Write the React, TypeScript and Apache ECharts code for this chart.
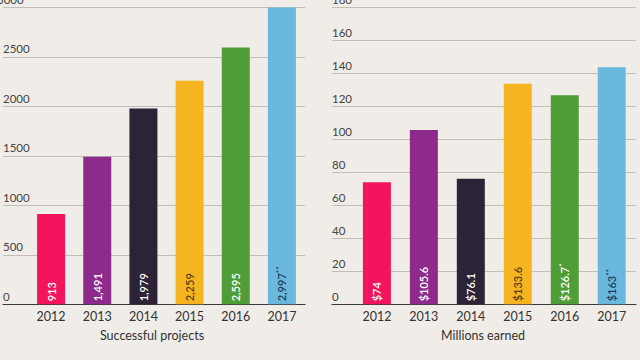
import React, { useEffect, useRef } from "react";
import * as echarts from "echarts";

const years = ["2012", "2013", "2014", "2015", "2016", "2017"];
const projects = [913, 1491, 1979, 2259, 2595, 2997];
const projectLabels = ["913", "1,491", "1,979", "2,259", "2,595", "2,997"];
const projectMarks = ["", "", "", "", "", "**"];
const earned = [74, 105.6, 76.1, 133.6, 126.7, 143.6];
const earnedLabels = ["$74", "$105.6", "$76.1", "$133.6", "$126.7", "$163"];
const earnedMarks = ["", "", "", "", "*", "**"];
const leftTitle = "Successful projects";
const rightTitle = "Millions earned";
const leftMax = 3000;
const leftStep = 500;
const rightMax = 180;
const rightStep = 20;

const barColors = ["#f2155d", "#8d2a8c", "#2c2436", "#f5b520", "#4f9d37", "#6bb8df"];
const labelColors = ["#ffffff", "#ffffff", "#ffffff", "#5a3d12", "#ffffff", "#1d3c5c"];

const FONT = "Lato, 'Open Sans', sans-serif";

export default function App() {
  const ref = useRef<HTMLDivElement>(null);
  useEffect(() => {
    document.body.style.margin = "0";
    const chart = echarts.init(ref.current!, null, { renderer: "svg" });
    const gridTop = 7.3;
    const gridH = 297;
    const yLabel = {
      show: true,
      inside: false,
      align: "left" as const,
      verticalAlign: "bottom" as const,
      margin: 0,
      padding: [0, 0, 2, 0],
      color: "#444",
      fontSize: 11.5,
      fontFamily: FONT,
      showMaxLabel: false,
      formatter: (v: number) => String(v),
    };
    const mkBars = (vals: number[], labels: string[], marks: string[], axisIdx: number) => ({
      type: "bar",
      xAxisIndex: axisIdx,
      yAxisIndex: axisIdx,
      barWidth: 28,
      data: vals.map((v, i) => ({
        value: v,
        itemStyle: { color: barColors[i] },
        label: { color: labelColors[i] },
      })),
      label: {
        show: true,
        position: "insideBottom",
        rotate: 90,
        align: "left",
        verticalAlign: "middle",
        distance: 3,
        fontSize: 11,
        fontWeight: 600,
        fontFamily: FONT,
        formatter: (p: any) =>
          marks[p.dataIndex]
            ? `{a|${labels[p.dataIndex]}}{b|${marks[p.dataIndex]}}`
            : `{a|${labels[p.dataIndex]}}`,
        rich: {
          a: { fontSize: 11, fontWeight: 600, fontFamily: FONT },
          b: { fontSize: 8, fontWeight: 600, fontFamily: FONT, padding: [0, 0, 5, 0] },
        },
      },
    });
    const catAxis = (gi: number) => ({
      type: "category",
      gridIndex: gi,
      data: years,
      axisLine: { show: false },
      axisTick: { show: false },
      axisLabel: { color: "#333", fontSize: 12.5, fontFamily: FONT, margin: 6 },
    });
    const lineXAxis = (gi: number) => ({
      type: "value",
      gridIndex: gi,
      min: 0,
      max: 1,
      axisLine: { show: true, lineStyle: { color: "#3a3a3a", width: 1.2 } },
      axisTick: { show: false },
      axisLabel: { show: false },
      splitLine: { show: false },
    });
    const gridY = (gi: number, max: number, step: number) => ({
      type: "value",
      gridIndex: gi,
      min: 0,
      max,
      interval: step,
      axisLine: { show: false },
      axisTick: { show: false },
      axisLabel: yLabel,
      splitLine: { show: true, lineStyle: { color: "#c2beb8", width: 1 } },
    });
    const hiddenY = (gi: number, max: number, step: number) => ({
      type: "value",
      gridIndex: gi,
      min: 0,
      max,
      interval: step,
      show: false,
    });
    const topLabel = (x: number, txt: string) => ({
      type: "text",
      x,
      y: gridTop - 2,
      style: {
        text: txt,
        fill: "#444",
        fontSize: 11.5,
        fontFamily: FONT,
        textAlign: "left",
        textVerticalAlign: "bottom",
      },
    });
    const title = (x: number, txt: string) => ({
      type: "text",
      x,
      y: 335,
      style: {
        text: txt,
        fill: "#333",
        fontSize: 12.5,
        fontFamily: FONT,
        textAlign: "center",
        textVerticalAlign: "middle",
      },
    });
    chart.setOption({
      animation: false,
      backgroundColor: "#f0ece7",
      textStyle: { fontFamily: FONT },
      grid: [
        { left: -3, top: gridTop, width: 308, height: gridH },
        { left: 28, top: gridTop, width: 277, height: gridH },
        { left: 332, top: gridTop, width: 304, height: gridH },
        { left: 353.4, top: gridTop, width: 281.8, height: gridH },
      ],
      xAxis: [lineXAxis(0), catAxis(1), lineXAxis(2), catAxis(3)],
      yAxis: [
        gridY(0, leftMax, leftStep),
        hiddenY(1, leftMax, leftStep),
        gridY(2, rightMax, rightStep),
        hiddenY(3, rightMax, rightStep),
      ],
      series: [
        mkBars(projects, projectLabels, projectMarks, 1),
        mkBars(earned, earnedLabels, earnedMarks, 3),
      ],
      graphic: [
        topLabel(-3, String(leftMax)),
        topLabel(332, String(rightMax)),
        title(152, leftTitle),
        title(483, rightTitle),
      ],
    });
    return () => chart.dispose();
  }, []);
  return (
    <div
      ref={ref}
      style={{ position: "absolute", left: 0, top: 0, width: 640, height: 360 }}
    />
  );
}
